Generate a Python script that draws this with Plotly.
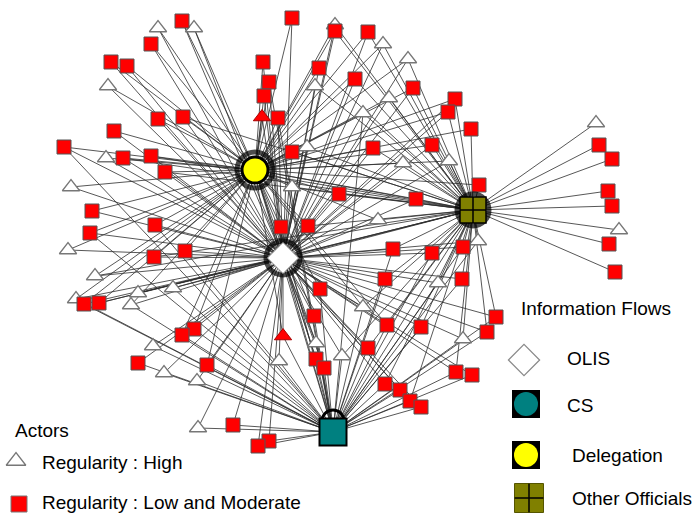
import plotly.graph_objects as go

# ---------------- data ----------------
hub_names = ["Delegation", "OLIS", "Other Officials", "CS"]
hub_codes = ["D", "O", "F", "C"]
hub_x = [255, 283, 473, 333]
hub_y = [170, 258, 210, 432]
hub_links = [("D", "O"), ("D", "F"), ("O", "F"), ("O", "C"), ("D", "C"), ("F", "C")]

# actor nodes: position, type (S = low/moderate square, T = high triangle, R = red triangle), linked hubs
node_x = [158, 194, 182, 151, 111, 127, 108, 158, 183, 114, 64, 123, 151, 106,
          292, 335, 335, 368, 383, 408, 263, 269, 264, 262, 278, 319, 355, 315,
          389, 363, 413, 455, 448, 471, 596, 599, 612, 608, 612, 619, 609, 615,
          292, 307, 373, 432, 403, 449, 479, 71, 92, 90, 68, 155, 154, 185, 95,
          76, 84, 99, 138, 131, 173, 165, 292, 339, 416, 281, 308, 378, 393, 432,
          463, 478, 385, 462, 438, 320, 314, 363, 387, 421, 283, 496, 487, 463,
          456, 472, 194, 182, 153, 138, 207, 164, 197, 198, 233, 316, 279, 316,
          324, 342, 368, 385, 400, 410, 421, 269, 258]
node_y = [28, 28, 21, 44, 62, 66, 86, 119, 117, 131, 147, 158, 156, 158,
          18, 31, 25, 32, 44, 59, 62, 82, 96, 117, 118, 68, 79, 86,
          98, 113, 88, 99, 112, 129, 123, 145, 159, 191, 206, 230, 244, 272,
          152, 147, 148, 145, 163, 161, 185, 187, 211, 233, 250, 225, 257, 251, 276,
          299, 304, 303, 293, 305, 288, 172, 187, 194, 199, 227, 226, 220, 249, 253,
          247, 241, 279, 279, 283, 289, 316, 307, 325, 327, 336, 317, 332, 339,
          372, 375, 329, 335, 346, 363, 365, 373, 381, 428, 425, 343, 361, 359,
          368, 356, 348, 384, 390, 401, 407, 441, 446]
node_type = ["T", "T", "S", "S", "S", "S", "T", "S", "S", "S", "S", "S", "S", "T",
             "S", "S", "T", "S", "T", "T", "S", "S", "S", "R", "S", "S", "S", "T",
             "T", "T", "S", "S", "S", "S", "T", "S", "S", "S", "S", "T", "S", "S",
             "S", "T", "S", "S", "T", "T", "S", "T", "S", "S", "T", "S", "S", "S", "T",
             "T", "S", "S", "T", "T", "T", "S", "T", "S", "S", "S", "S", "T", "S", "S",
             "S", "T", "S", "S", "T", "S", "S", "T", "S", "S", "R", "S", "S", "T",
             "S", "S", "S", "S", "T", "S", "S", "T", "T", "T", "S", "T", "T", "S",
             "S", "T", "S", "S", "S", "S", "S", "S", "S"]
node_links = ["DO", "DO", "DO", "DO", "DO", "DO", "DO", "DO", "DOF", "DO", "DOC", "DOF", "DOF", "DO",
              "DO", "DOF", "DOF", "DOF", "DOF", "DOF", "DO", "DOC", "DO", "DO", "DOC", "DOF", "DOF", "DOF",
              "DOF", "DOFC", "DOF", "DOF", "DOF", "DF", "F", "F", "F", "F", "F", "F", "F", "F",
              "DOF", "DOF", "DOF", "DOF", "DOF", "DOF", "DF", "DO", "DO", "DOC", "DO", "DOC", "DOF", "DOC", "DOF",
              "DOC", "DOC", "DOF", "OF", "DOC", "OFC", "DOF", "DOF", "DOF", "DOF", "DOC", "DOF", "DOF", "OFC", "OFC",
              "OFC", "OFC", "OFC", "OFC", "OFC", "DOC", "DOC", "DOFC", "DOFC", "OFC", "DOC", "OFC", "OFC", "OFC",
              "OFC", "OC", "DOC", "DOC", "OC", "OC", "DOC", "OC", "OC", "OC", "OC", "DOC", "OC", "DOC",
              "OC", "OFC", "OFC", "OFC", "OC", "OFC", "OC", "OC", "OC"]

actor_legend = ["Regularity : High", "Regularity : Low and Moderate"]
flow_legend = ["OLIS", "CS", "Delegation", "Other Officials"]

# ---------------- figure ----------------
W, H = 694, 514
FONT = "Arial, Liberation Sans, sans-serif"
hub_pos = {c: (x, y) for c, x, y in zip(hub_codes, hub_x, hub_y)}

ex, ey = [], []
for x, y, links in zip(node_x, node_y, node_links):
    for c in links:
        hx, hy = hub_pos[c]
        ex += [x, hx, None]
        ey += [y, hy, None]
for a, b in hub_links:
    ex += [hub_pos[a][0], hub_pos[b][0], None]
    ey += [hub_pos[a][1], hub_pos[b][1], None]

fig = go.Figure()
fig.add_trace(go.Scatter(x=ex, y=ey, mode="lines",
                         line=dict(color="rgba(45,45,45,0.8)", width=1),
                         hoverinfo="skip", showlegend=False))

def pick(t):
    return [i for i, k in enumerate(node_type) if k == t]

styles = {
    "T": dict(symbol="triangle-up", size=15, color="white", line=dict(color="#777777", width=1.3)),
    "S": dict(symbol="square", size=14, color="#FF0000", line=dict(color="#555555", width=1)),
    "R": dict(symbol="triangle-up", size=15, color="#FF0000", line=dict(color="#AA0000", width=1)),
}
for t in ["T", "S", "R"]:
    idx = pick(t)
    fig.add_trace(go.Scatter(x=[node_x[i] for i in idx], y=[node_y[i] for i in idx],
                             mode="markers", marker=styles[t], hoverinfo="skip", showlegend=False))

# hub rings (arrowhead clutter)
fig.add_trace(go.Scatter(x=hub_x[:3], y=hub_y[:3], mode="markers",
                         marker=dict(symbol="circle-open", size=[36, 34, 32], color="black",
                                     line=dict(color="black", width=5)),
                         hoverinfo="skip", showlegend=False))
# Delegation
fig.add_trace(go.Scatter(x=[hub_x[0]], y=[hub_y[0]], mode="markers",
                         marker=dict(symbol="circle", size=26, color="#FFFF00",
                                     line=dict(color="black", width=3)),
                         hoverinfo="skip", showlegend=False))
# OLIS
fig.add_trace(go.Scatter(x=[hub_x[1]], y=[hub_y[1]], mode="markers",
                         marker=dict(symbol="diamond", size=24, color="white",
                                     line=dict(color="#888888", width=1)),
                         hoverinfo="skip", showlegend=False))
# Other Officials
fig.add_trace(go.Scatter(x=[hub_x[2]], y=[hub_y[2]], mode="markers",
                         marker=dict(symbol="square", size=26, color="#808000",
                                     line=dict(color="black", width=1.5)),
                         hoverinfo="skip", showlegend=False))
fig.add_trace(go.Scatter(x=[hub_x[2]], y=[hub_y[2]], mode="markers",
                         marker=dict(symbol="cross-thin", size=18.5, color="black",
                                     line=dict(color="black", width=1.5)),
                         hoverinfo="skip", showlegend=False))
# CS
fig.add_trace(go.Scatter(x=[hub_x[3]], y=[hub_y[3] - 11], mode="markers",
                         marker=dict(symbol="circle-open", size=22, color="black",
                                     line=dict(color="black", width=3)),
                         hoverinfo="skip", showlegend=False))
fig.add_trace(go.Scatter(x=[hub_x[3]], y=[hub_y[3]], mode="markers",
                         marker=dict(symbol="square", size=27, color="#008080",
                                     line=dict(color="black", width=2)),
                         hoverinfo="skip", showlegend=False))
fig.add_trace(go.Scatter(x=[hub_x[3]], y=[hub_y[3]], mode="markers",
                         marker=dict(symbol="circle", size=22, color="#008080",
                                     line=dict(color="#006666", width=0)),
                         hoverinfo="skip", showlegend=False))

# ---------------- legends ----------------
leg_sym = [
    (16, 461, dict(symbol="triangle-up", size=17, color="white", line=dict(color="#777777", width=1.3))),
    (19, 504, dict(symbol="square", size=16, color="#FF0000", line=dict(color="#777777", width=1))),
    (524, 360, dict(symbol="diamond", size=24, color="white", line=dict(color="#888888", width=1.2))),
    (526, 404, dict(symbol="square", size=28, color="black")),
    (526, 404, dict(symbol="circle", size=24, color="#008080")),
    (526, 455, dict(symbol="square", size=28, color="black")),
    (526, 455, dict(symbol="circle", size=24, color="#FFFF00")),
    (529, 498, dict(symbol="square", size=29, color="#808000", line=dict(color="#555500", width=1))),
    (529, 498, dict(symbol="cross-thin", size=20.5, color="black", line=dict(color="black", width=1.5))),
]
for x, y, m in leg_sym:
    fig.add_trace(go.Scatter(x=[x], y=[y], mode="markers", marker=m,
                             hoverinfo="skip", showlegend=False))

texts = [
    (13, 430, "Actors"),
    (40, 462, actor_legend[0]),
    (40, 502, actor_legend[1]),
    (519, 308, "Information Flows"),
    (565, 358, flow_legend[0]),
    (565, 405, flow_legend[1]),
    (570, 455, flow_legend[2]),
    (570, 498, flow_legend[3]),
]
for x, y, t in texts:
    fig.add_annotation(x=x, y=y, text=t, showarrow=False, xanchor="left", yanchor="middle",
                       font=dict(family=FONT, size=19, color="black"))

fig.update_layout(width=W, height=H, margin=dict(l=0, r=0, t=0, b=0),
                  paper_bgcolor="white", plot_bgcolor="white", showlegend=False)
fig.update_xaxes(range=[0, W], visible=False, fixedrange=True)
fig.update_yaxes(range=[H, 0], visible=False, fixedrange=True)

fig.write_html("out.html", config={"displayModeBar": False},
               post_script="document.body.style.margin='0';document.body.style.overflow='hidden';")
